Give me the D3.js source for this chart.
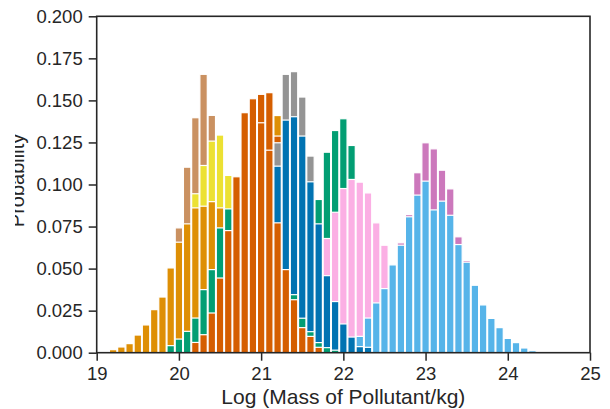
<html>
<head>
<meta charset="UTF-8">
<title>Pollutant mass histograms</title>
<style>
  body { margin: 0; background: #fff; }
  svg { display: block; }
  text { font-family: "Liberation Sans", Arial, sans-serif; fill: #262626; }
</style>
</head>
<body>
<svg id="chart" width="610" height="409"></svg>
<script src="https://d3js.org/d3.v7.min.js"></script>
<script>
// bin width of every histogram, in log units
const binWidth = 0.1;

// each series: first bin centre, then probabilities bin by bin
const orangeStart = 19.2;
const orangeVals = [0.0018, 0.0034, 0.0054, 0.0105, 0.0165, 0.0256, 0.0331, 0.0504, 0.0657, 0.0766,
                    0.0861, 0.0871, 0.0898, 0.0861, 0, 0, 0, 0, 0, 0, 0.141];
const tanStart = 20.0;
const tanVals = [0.0742, 0.1103, 0.1397, 0.1655, 0.1411];
const yellowStart = 20.2;
const yellowVals = [0.0945, 0.1113, 0.1258, 0.1294, 0.1054];
const greenStart = 19.9;
const greenVals = [0.0042, 0.0081, 0.0127, 0.0206, 0.0375, 0.0494, 0.0742, 0.0855,
                   0, 0, 0, 0, 0, 0, 0, 0.0345, 0.0205, 0.0125, 0.006, 0.003, 0.0015];
const green2Start = 21.7;
const green2Vals = [0.0911, 0.1192, 0.1321, 0.1391, 0.1232];
const redStart = 20.2;
const redVals = [0.0061, 0.0107, 0.0236, 0.0444, 0.0726, 0.1046, 0.1427, 0.151, 0.1367, 0.1204,
                 0.0772, 0.0494, 0.0315, 0.0149, 0.0097, 0.0032];
const red2Start = 21.0;
const red2Vals = [0.1536, 0.1546, 0.1288];
const blueStart = 21.2;
const blueVals = [0.1109, 0.1383, 0.1403, 0.1288, 0.1016, 0.0766, 0.0458, 0.0304, 0.0171, 0.0093,
                  0.0036, 0.0032];
const grayStart = 21.2;
const grayVals = [0.1248, 0.1655, 0.1671, 0.152, 0.1169];
const pinkStart = 21.8;
const pinkVals = [0.0679, 0.0835, 0.0976, 0.103, 0.1014, 0.095, 0.0772, 0.0639];
const skyStart = 22.2;
const skyVals = [0.0097, 0.0206, 0.0296, 0.0381, 0.0522, 0.0639, 0.0808, 0.0937, 0.102, 0.0849,
                 0.0901, 0.0817, 0.0643, 0.0538, 0.0401, 0.0284, 0.0204, 0.0149, 0.0085, 0.006,
                 0.0028, 0.0012];
const purpleStart = 22.7;
const purpleVals = [0.0653, 0.0821, 0.107, 0.1248, 0.1212, 0.1085, 0.0974, 0.0689, 0.0548];

const xTicks = [19, 20, 21, 22, 23, 24, 25];
const yTicks = [0, 0.025, 0.05, 0.075, 0.1, 0.125, 0.15, 0.175, 0.2];

const series = [
  {color: "#de8f05", start: orangeStart, vals: orangeVals},
  {color: "#ca9161", start: tanStart, vals: tanVals},
  {color: "#ece133", start: yellowStart, vals: yellowVals},
  {color: "#029e73", start: greenStart, vals: greenVals},
  {color: "#029e73", start: green2Start, vals: green2Vals},
  {color: "#d55e00", start: redStart, vals: redVals},
  {color: "#d55e00", start: red2Start, vals: red2Vals},
  {color: "#0173b2", start: blueStart, vals: blueVals},
  {color: "#949494", start: grayStart, vals: grayVals},
  {color: "#fbafe4", start: pinkStart, vals: pinkVals},
  {color: "#56b4e9", start: skyStart, vals: skyVals},
  {color: "#cc78bc", start: purpleStart, vals: purpleVals}
];

const svg = d3.select("#chart");
const plotL = 96.7, plotR = 590, plotT = 16.3, plotB = 352.7;

const x = d3.scaleLinear().domain([19, 25]).range([plotL, plotR]);
const y = d3.scaleLinear().domain([0, 0.2]).range([plotB, plotT]);

// flatten into bars; tallest drawn first so shorter ones sit in front
let bars = [];
series.forEach(s => {
  s.vals.forEach((v, i) => {
    if (v > 0) bars.push({c: Math.round((s.start + i * binWidth) * 10) / 10, v: v, color: s.color});
  });
});
bars.sort((a, b) => b.v - a.v);

svg.append("g")
  .selectAll("rect")
  .data(bars)
  .enter()
  .append("rect")
  .attr("x", d => x(d.c - binWidth / 2) + 0.4)
  .attr("width", d => x(d.c + binWidth / 2) - x(d.c - binWidth / 2) - 0.8)
  .attr("y", d => y(d.v))
  .attr("height", d => y(0) - y(d.v))
  .attr("fill", d => d.color)
  .attr("stroke", "#fff")
  .attr("stroke-width", 1.2);

// axes
const xAxis = svg.append("g")
  .attr("transform", `translate(0,${plotB})`)
  .call(d3.axisBottom(x).tickValues(xTicks).tickFormat(d3.format("d")).tickSize(8).tickPadding(6));
const yAxis = svg.append("g")
  .attr("transform", `translate(${plotL},0)`)
  .call(d3.axisLeft(y).tickValues(yTicks).tickFormat(d3.format(".3f")).tickSize(8).tickPadding(6));

[xAxis, yAxis].forEach(g => {
  g.select(".domain").remove();
  g.selectAll(".tick line").attr("stroke", "#262626").attr("stroke-width", 1.5);
  g.selectAll(".tick text").attr("font-size", 18.5).attr("fill", "#262626")
    .attr("font-family", '"Liberation Sans", Arial, sans-serif');
});

// frame
svg.append("rect")
  .attr("x", plotL).attr("y", plotT)
  .attr("width", plotR - plotL).attr("height", plotB - plotT)
  .attr("fill", "none")
  .attr("stroke", "#262626")
  .attr("stroke-width", 1.6);

svg.append("text")
  .attr("x", (plotL + plotR) / 2)
  .attr("y", 404)
  .attr("text-anchor", "middle")
  .attr("font-size", 21)
  .text("Log (Mass of Pollutant/kg)");

// the y label is cut off at the left edge in the original
svg.append("clipPath").attr("id", "ylabClip")
  .append("rect").attr("x", 15).attr("y", 0).attr("width", 40).attr("height", 409);

svg.append("g")
  .attr("clip-path", "url(#ylabClip)")
  .append("text")
  .attr("transform", `translate(24,${(plotT + plotB) / 2 - 4}) rotate(-90)`)
  .attr("text-anchor", "middle")
  .attr("font-size", 20)
  .text("Probability");
</script>
</body>
</html>
